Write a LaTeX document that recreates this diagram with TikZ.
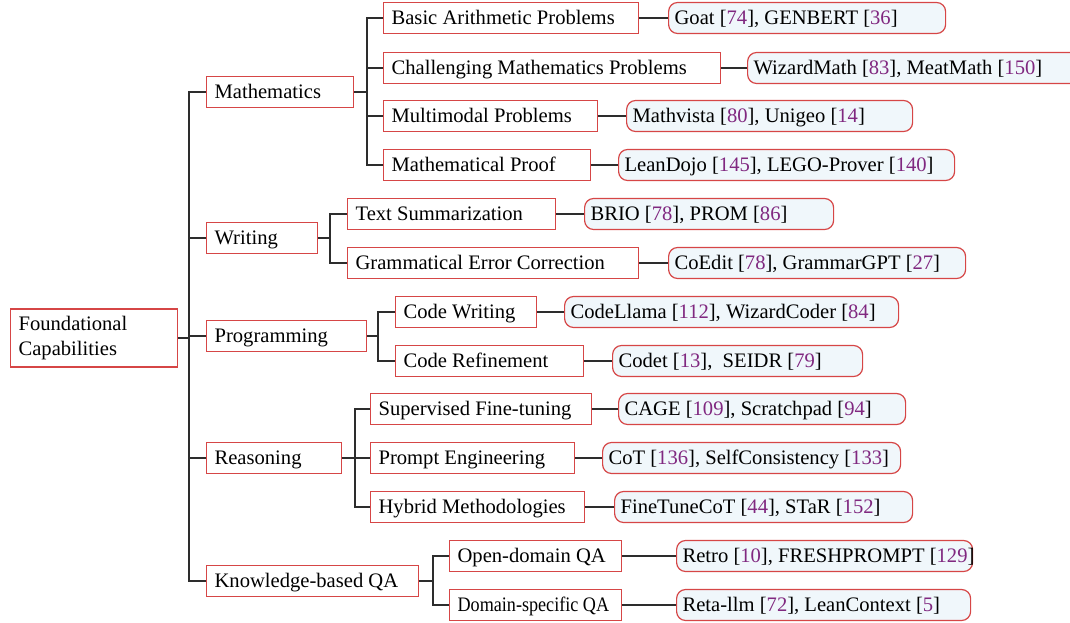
\documentclass[tikz,border=0pt]{standalone}
\usepackage{fontspec}
\setmainfont{Liberation Serif}
\definecolor{boxred}{RGB}{214,70,70}
\definecolor{leaffill}{RGB}{240,247,251}
\definecolor{citec}{RGB}{128,40,128}
\definecolor{linec}{RGB}{45,45,45}
\newcommand{\ct}[1]{[\textcolor{citec}{#1}]}
\newcommand{\fb}[2]{\makebox[#1][l]{#2}}
\tikzset{
  basebox/.style={draw=boxred, line width=0.6pt, anchor=west, inner ysep=0pt, font=\fontsize{10.3}{12.5}\selectfont},
  cat/.style={basebox, fill=white, inner xsep=4pt, minimum height=15.5pt, text height=8.6pt, text depth=1.8pt},
  rootbox/.style={basebox, fill=white, inner xsep=4pt, minimum height=29pt, align=left},
  leaf/.style={basebox, fill=leaffill, rounded corners=4.5pt, inner xsep=3pt, minimum height=15.5pt, text height=8.6pt, text depth=1.8pt},
  conn/.style={draw=linec, line width=0.6pt}
}
\begin{document}
\begin{tikzpicture}[x=0.5pt,y=-0.5pt]
\useasboundingbox (0,0) rectangle (1070,622);
\clip (0,0) rectangle (1070,622);
% root
\node[rootbox, text width=75.5pt] (root) at (10,338) {Foundational\\Capabilities};
% level 1
\node[cat] (math) at (206,92) {\fb{65.5pt}{Mathematics}};
\node[cat] (writ) at (206,238) {\fb{47.5pt}{Writing}};
\node[cat] (prog) at (206,336) {\fb{72pt}{Programming}};
\node[cat] (reas) at (206,458) {\fb{59.5pt}{Reasoning}};
\node[cat] (kqa) at (206,581) {\fb{98pt}{Knowledge-based QA}};
% level 2
\node[cat] (m1) at (383,18) {\fb{119.5pt}{Basic Arithmetic Problems}};
\node[cat] (m2) at (383,68) {\fb{160.5pt}{Challenging Mathematics Problems}};
\node[cat] (m3) at (383,116) {\fb{99pt}{Multimodal Problems}};
\node[cat] (m4) at (383,165) {\fb{95.5pt}{Mathematical Proof}};
\node[cat] (w1) at (347,214) {\fb{96pt}{Text Summarization}};
\node[cat] (w2) at (347,263) {\fb{137.5pt}{Grammatical Error Correction}};
\node[cat] (p1) at (395,312) {\fb{62.5pt}{Code Writing}};
\node[cat] (p2) at (395,361) {\fb{86pt}{Code Refinement}};
\node[cat] (r1) at (370,409) {\fb{102.5pt}{Supervised Fine-tuning}};
\node[cat] (r2) at (370,458) {\fb{94pt}{Prompt Engineering}};
\node[cat] (r3) at (370,507) {\fb{99pt}{Hybrid Methodologies}};
\node[cat] (k1) at (449,556) {\fb{78pt}{Open-domain QA}};
\node[cat] (k2) at (449,605) {\fb{78pt}{\scalebox{0.88}[1]{Domain-specific QA}}};
% leaves
\node[leaf] (lm1) at (668,18) {\fb{132.5pt}{Goat \ct{74}, GENBERT \ct{36}}};
\node[leaf] (lm2) at (747,68) {\fb{180pt}{WizardMath \ct{83}, MeatMath \ct{150}}};
\node[leaf] (lm3) at (626,116) {\fb{137pt}{Mathvista \ct{80}, Unigeo \ct{14}}};
\node[leaf] (lm4) at (618,165) {\fb{162pt}{LeanDojo \ct{145}, LEGO-Prover \ct{140}}};
\node[leaf] (lw1) at (584,214) {\fb{118.5pt}{BRIO \ct{78}, PROM \ct{86}}};
\node[leaf] (lw2) at (668,263) {\fb{142.5pt}{CoEdit \ct{78}, GrammarGPT \ct{27}}};
\node[leaf] (lp1) at (564,312) {\fb{161pt}{CodeLlama \ct{112}, WizardCoder \ct{84}}};
\node[leaf] (lp2) at (612,361) {\fb{119pt}{Codet \ct{13}, \ SEIDR \ct{79}}};
\node[leaf] (lr1) at (618,409) {\fb{137.5pt}{CAGE \ct{109}, Scratchpad \ct{94}}};
\node[leaf] (lr2) at (602,458) {\fb{143pt}{CoT \ct{136}, SelfConsistency \ct{133}}};
\node[leaf] (lr3) at (614,507) {\fb{143pt}{FineTuneCoT \ct{44}, STaR \ct{152}}};
\node[leaf] (lk1) at (676,556) {\fb{142pt}{Retro \ct{10}, FRESHPROMPT \ct{129}}};
\node[leaf] (lk2) at (676,605) {\fb{141pt}{Reta-llm \ct{72}, LeanContext \ct{5}}};
% spines
\coordinate (s0) at (189,338);
\coordinate (sm) at (367,92);
\coordinate (sw) at (330,238);
\coordinate (sp) at (378,336);
\coordinate (sr) at (355,458);
\coordinate (sk) at (433,581);
% root connections
\draw[conn] (root.east) -- (s0);
\foreach \c in {math,writ,prog,reas,kqa} \draw[conn] (s0) |- (\c.west);
\draw[conn] (math.east) -- (sm);
\foreach \c in {m1,m2,m3,m4} \draw[conn] (sm) |- (\c.west);
\draw[conn] (writ.east) -- (sw);
\foreach \c in {w1,w2} \draw[conn] (sw) |- (\c.west);
\draw[conn] (prog.east) -- (sp);
\foreach \c in {p1,p2} \draw[conn] (sp) |- (\c.west);
\draw[conn] (reas.east) -- (sr);
\foreach \c in {r1,r2,r3} \draw[conn] (sr) |- (\c.west);
\draw[conn] (kqa.east) -- (sk);
\foreach \c in {k1,k2} \draw[conn] (sk) |- (\c.west);
% leaf connections
\foreach \a/\b in {m1/lm1,m2/lm2,m3/lm3,m4/lm4,w1/lw1,w2/lw2,p1/lp1,p2/lp2,r1/lr1,r2/lr2,r3/lr3,k1/lk1,k2/lk2}
  \draw[conn] (\a.east) -- (\b.west);
\end{tikzpicture}
\end{document}
